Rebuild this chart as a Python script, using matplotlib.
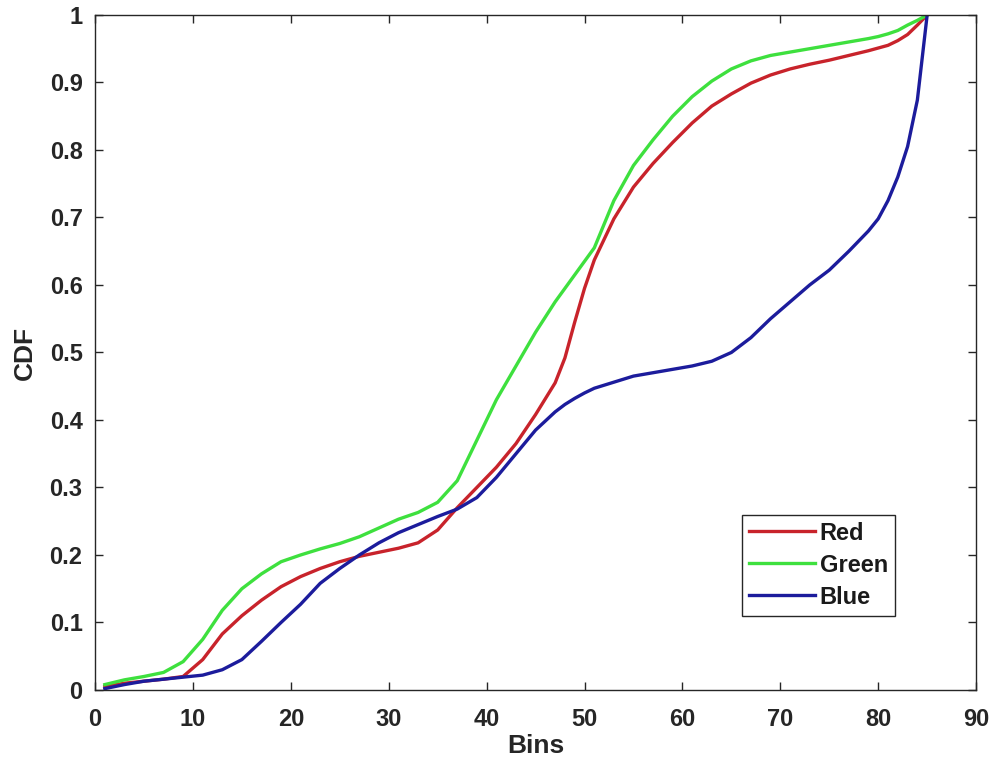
import matplotlib
matplotlib.use("Agg")
import matplotlib.pyplot as plt

plt.rcParams['font.family'] = ['Liberation Sans', 'DejaVu Sans']

bins = [1, 3, 5, 7, 9, 11, 13, 15, 17, 19, 21, 23, 25, 27, 29, 31, 33, 35, 37, 39,
        41, 43, 45, 47, 48, 49, 50, 51, 53, 55, 57, 59, 61, 63, 65, 67, 69, 71, 73,
        75, 77, 79, 80, 81, 82, 83, 84, 85]

red = [0.005, 0.010, 0.013, 0.016, 0.020, 0.045, 0.083, 0.110, 0.133, 0.153, 0.168,
       0.180, 0.190, 0.198, 0.204, 0.210, 0.218, 0.237, 0.270, 0.300, 0.330, 0.365,
       0.408, 0.455, 0.492, 0.545, 0.595, 0.637, 0.698, 0.745, 0.780, 0.811, 0.840,
       0.865, 0.883, 0.899, 0.911, 0.920, 0.927, 0.933, 0.940, 0.947, 0.951, 0.955,
       0.962, 0.971, 0.985, 1.000]

green = [0.008, 0.015, 0.020, 0.026, 0.042, 0.075, 0.118, 0.150, 0.172, 0.190, 0.200,
         0.209, 0.217, 0.227, 0.240, 0.253, 0.263, 0.278, 0.310, 0.370, 0.430, 0.480,
         0.530, 0.575, 0.595, 0.615, 0.635, 0.655, 0.725, 0.777, 0.815, 0.850, 0.879,
         0.902, 0.920, 0.932, 0.940, 0.945, 0.950, 0.955, 0.960, 0.965, 0.968, 0.972,
         0.977, 0.985, 0.992, 1.000]

blue = [0.002, 0.008, 0.013, 0.016, 0.019, 0.022, 0.030, 0.045, 0.072, 0.100, 0.127,
        0.158, 0.180, 0.200, 0.218, 0.233, 0.245, 0.257, 0.268, 0.285, 0.315, 0.350,
        0.385, 0.412, 0.423, 0.432, 0.440, 0.447, 0.456, 0.465, 0.470, 0.475, 0.480,
        0.487, 0.500, 0.522, 0.550, 0.575, 0.600, 0.622, 0.650, 0.680, 0.698, 0.725,
        0.760, 0.805, 0.874, 1.000]

series_names = ['Red', 'Green', 'Blue']
series_colors = ['#c8232b', '#3ee03e', '#1c1c9c']

fig = plt.figure(figsize=(9.94, 7.63), dpi=100)
ax = fig.add_axes([0.0956, 0.0957, 0.8864, 0.8847])

for vals, name, col in zip([red, green, blue], series_names, series_colors):
    ax.plot(bins, vals, color=col, lw=2.4, label=name, solid_joinstyle='round')

ax.set_xlim(0, 90)
ax.set_ylim(0, 1)
ax.set_xticks(range(0, 91, 10))
ax.set_yticks([i / 10 for i in range(11)])
ax.set_yticklabels(['0', '0.1', '0.2', '0.3', '0.4', '0.5', '0.6', '0.7', '0.8', '0.9', '1'])

txtcol = '#262626'
ax.tick_params(direction='in', length=6, width=1, top=True, right=True,
               labelsize=17, colors=txtcol)
ax.tick_params(axis='x', pad=13)
ax.tick_params(axis='y', pad=9)
for lab in ax.get_xticklabels() + ax.get_yticklabels():
    lab.set_fontweight('bold')
for sp in ax.spines.values():
    sp.set_color(txtcol)
    sp.set_linewidth(1)

ax.set_xlabel('Bins', fontsize=19, fontweight='bold', color=txtcol, labelpad=2)
ax.set_ylabel('CDF', fontsize=19, fontweight='bold', color=txtcol, labelpad=9)

leg = ax.legend(loc='lower right', bbox_to_anchor=(0.908, 0.11), fancybox=False,
                edgecolor=txtcol, framealpha=1, handlelength=2.8, handletextpad=0.2,
                borderpad=0.3, borderaxespad=0, labelspacing=0.38,
                prop={'weight': 'bold', 'size': 17})
leg.get_frame().set_linewidth(1)
for t in leg.get_texts():
    t.set_color('#1a1a1a')

fig.savefig('out.png', dpi=100, facecolor='white')
